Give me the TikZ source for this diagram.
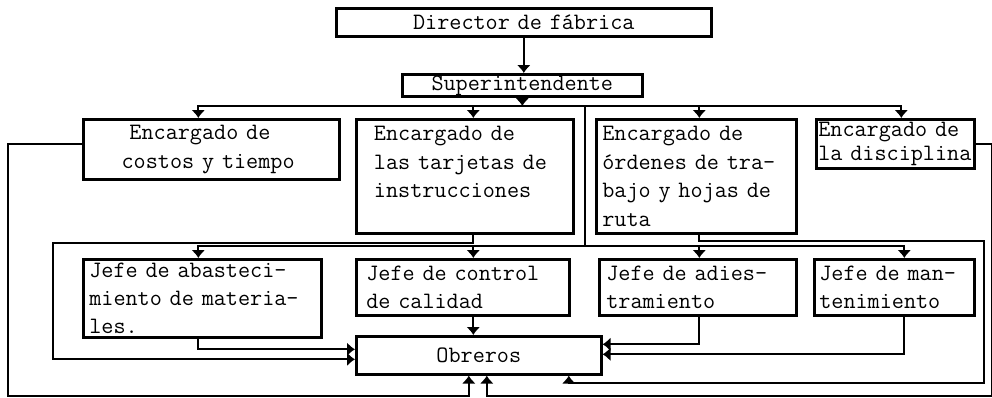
\documentclass[tikz,border=0pt]{standalone}
\usepackage{tikz}
\usetikzlibrary{arrows.meta}

\begin{document}
\begin{tikzpicture}[x=1pt,y=-1pt]

	\tikzstyle{caja}=[draw,line width=2.6pt,anchor=north west,align=left,inner xsep=2pt,inner ysep=0pt,font=\ttfamily\fontsize{23.5}{28.4}\selectfont]
	\tikzstyle{linea}=[line width=2pt,line cap=rect]
	\tikzstyle{flecha}=[line width=2pt,-{Latex[length=8pt,width=14pt]}]

	\useasboundingbox (0,0) rectangle (992,397);

	% direccion
	\node[caja,align=center,text width=371pt,minimum height=28pt] (dir) at (335,7) {Director de fábrica};
	\node[caja,align=center,text width=236pt,minimum height=22pt] (sup) at (401,73) {Superintendente};

	% encargados
	\node[caja,inner xsep=7pt,text width=242pt,minimum height=60pt] (costos) at (82,118) {~~~~~Encargado de\\~~~~costos y tiempo};
	\node[caja,text width=213pt,minimum height=114pt] (tarjetas) at (355,118) {~~Encargado de\\~~las tarjetas de\\~~instrucciones\\~};
	\node[caja,inner xsep=6pt,text width=188pt,minimum height=114pt] (ordenes) at (595,118) {Encargado de\\órdenes de tra-\\bajo y hojas de\\ruta};
	\node[caja,text width=154pt,minimum height=49pt,font=\ttfamily\fontsize{23.5}{24}\selectfont] (disciplina) at (815,118) {Encargado de\\la~disciplina};

	% jefes
	\node[caja,inner xsep=6pt,text width=226pt,minimum height=78pt] (abast) at (82,258) {Jefe de abasteci-\\miento de materia-\\les.};
	\node[caja,inner xsep=10pt,text width=193pt,minimum height=56pt] (calidad) at (355,258) {Jefe de control\\de calidad};
	\node[caja,inner xsep=7pt,text width=183pt,minimum height=56pt] (adiest) at (598,258) {Jefe de adies-\\tramiento};
	\node[caja,inner xsep=5pt,text width=150pt,minimum height=56pt] (mant) at (813,258) {Jefe de man-\\tenimiento};

	\node[caja,align=center,text width=241pt,minimum height=38pt] (obreros) at (355,335) {Obreros};

	\coordinate (bus1) at (585,106);
	\coordinate (bus2) at (585,246);
	\coordinate (c1) at ([xshift=-13pt]costos.north);
	\coordinate (c2) at ([xshift=8.5pt]tarjetas.north);
	\coordinate (c3) at ([xshift=3pt]ordenes.north);
	\coordinate (c4) at ([xshift=6pt]disciplina.north);
	\coordinate (j1) at ([xshift=-4pt]abast.north);
	\coordinate (j2) at ([xshift=10.5pt]calidad.north);
	\coordinate (j3) at ([xshift=1.5pt]adiest.north);
	\coordinate (j4) at ([xshift=10pt]mant.north);

	\draw[flecha] (dir.south) -- (dir.south |- sup.north);
	\draw[flecha] (sup.south) -- (sup.south |- bus1);
	\draw[linea] (c1 |- bus1) -- (c4 |- bus1);
	\foreach \c in {c1,c2,c3,c4}
		\draw[flecha] (\c |- bus1) -- (\c);
	\draw[linea] (bus1) -- (bus2);
	\draw[linea] (j1 |- bus2) -- (j4 |- bus2);
	\foreach \j in {j1,j2,j3,j4}
		\draw[flecha] (\j |- bus2) -- (\j);

	% hacia los obreros
	\draw[flecha] (tarjetas.south -| c2) -- ++(0,8) -- ++(-420,0) |- ([yshift=-4pt]obreros.west);
	\draw[flecha] (abast.south -| j1) |- ([yshift=6pt]obreros.west);
	\draw[flecha] (calidad.south -| j2) -- (obreros.north -| j2);
	\draw[flecha] (adiest.south -| j3) |- ([yshift=11pt]obreros.east);
	\draw[flecha] (mant.south -| j4) |- ([yshift=1pt]obreros.east);
	\draw[flecha] (ordenes.south -| c3) -- ++(0,6) -- ++(285,0) -- ++(0,142) -| ([xshift=90pt]obreros.south);
	\draw[flecha] ([yshift=5pt]costos.west) -- ++(-74,0) -- ++(0,252) -| ([xshift=-10pt]obreros.south);
	\draw[flecha] (disciplina.east) -- ++(16,0) -- ++(0,252) -| ([xshift=8pt]obreros.south);

\end{tikzpicture}
\end{document}
